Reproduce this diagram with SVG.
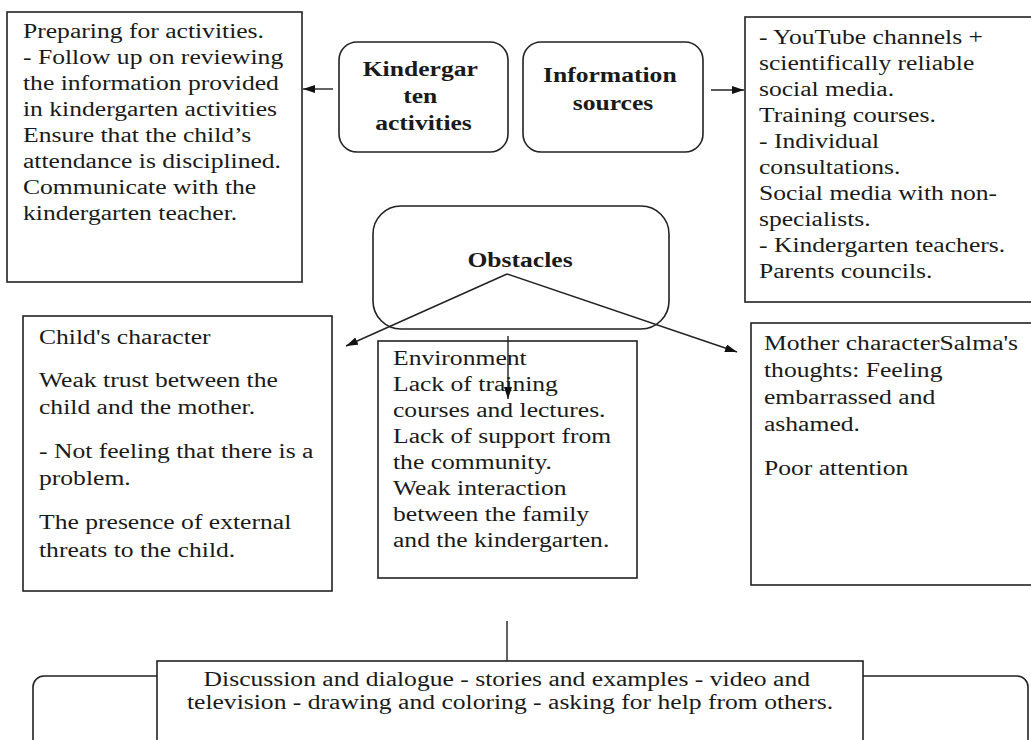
<svg xmlns="http://www.w3.org/2000/svg" width="1031" height="740" viewBox="0 0 1031 740">
<style>
.bg{fill:#ffffff}
.box{fill:#ffffff;stroke:#222;stroke-width:1.6}
.rbox{fill:none;stroke:#222;stroke-width:1.6}
.t{font-family:"Liberation Serif","Times New Roman",serif;font-size:20px;fill:#1a1a1a}
.b{font-weight:bold}
.c{text-anchor:middle}
.ln{fill:none;stroke:#222;stroke-width:1.4}
</style>
<defs>
<marker id="ah" viewBox="0 0 10 10" refX="10" refY="5" markerUnits="userSpaceOnUse" markerWidth="12" markerHeight="8" orient="auto" preserveAspectRatio="none">
<path d="M0,0 L10,5 L0,10 z" fill="#111"/>
</marker>
</defs>
<rect class="bg" x="0" y="0" width="1031" height="740"/>

<g id="prep">
<rect class="box" x="7" y="12" width="295" height="270"/>
<text class="t" transform="translate(23,0) scale(1.28,1)">
<tspan x="0" y="38">Preparing for activities.</tspan>
<tspan x="0" y="64">- Follow up on reviewing</tspan>
<tspan x="0" y="90">the information provided</tspan>
<tspan x="0" y="116">in kindergarten activities</tspan>
<tspan x="0" y="142">Ensure that the child’s</tspan>
<tspan x="0" y="168">attendance is disciplined.</tspan>
<tspan x="0" y="194">Communicate with the</tspan>
<tspan x="0" y="220">kindergarten teacher.</tspan>
</text>
</g>

<g id="kg">
<rect class="box" x="339" y="42" width="169" height="110" rx="18"/>
<text class="t b c" transform="translate(423.5,0) scale(1.28,1)">
<tspan x="0" y="76">Kindergar</tspan>
<tspan x="0" y="103">ten</tspan>
<tspan x="0" y="130">activities</tspan>
</text>
</g>

<g id="info">
<rect class="box" x="523" y="42" width="180" height="110" rx="18"/>
<text class="t b c" transform="translate(613,0) scale(1.28,1)">
<tspan x="0" y="82">Information</tspan>
<tspan x="0" y="110">sources</tspan>
</text>
</g>

<g id="sources">
<rect class="box" x="745" y="17" width="300" height="285"/>
<text class="t" transform="translate(759,0) scale(1.28,1)">
<tspan x="0" y="44">- YouTube channels +</tspan>
<tspan x="0" y="70">scientifically reliable</tspan>
<tspan x="0" y="96">social media.</tspan>
<tspan x="0" y="122">Training courses.</tspan>
<tspan x="0" y="148">- Individual</tspan>
<tspan x="0" y="174">consultations.</tspan>
<tspan x="0" y="200">Social media with non-</tspan>
<tspan x="0" y="226">specialists.</tspan>
<tspan x="0" y="252">- Kindergarten teachers.</tspan>
<tspan x="0" y="278">Parents councils.</tspan>
</text>
</g>

<g id="obstacles">
<rect class="box" x="373" y="206" width="296" height="123" rx="28"/>
<text class="t b c" transform="translate(520,0) scale(1.28,1)">
<tspan x="0" y="267">Obstacles</tspan>
</text>
</g>

<g id="child">
<rect class="box" x="23" y="316" width="309" height="275"/>
<text class="t" transform="translate(39,0) scale(1.28,1)">
<tspan x="0" y="344">Child's character</tspan>
<tspan x="0" y="387">Weak trust between the</tspan>
<tspan x="0" y="414">child and the mother.</tspan>
<tspan x="0" y="458">- Not feeling that there is a</tspan>
<tspan x="0" y="485">problem.</tspan>
<tspan x="0" y="529">The presence of external</tspan>
<tspan x="0" y="557">threats to the child.</tspan>
</text>
</g>

<g id="environment">
<rect class="box" x="378" y="341" width="259" height="237"/>
<text class="t" transform="translate(393,0) scale(1.28,1)">
<tspan x="0" y="365">Environment</tspan>
<tspan x="0" y="391">Lack of training</tspan>
<tspan x="0" y="417">courses and lectures.</tspan>
<tspan x="0" y="443">Lack of support from</tspan>
<tspan x="0" y="469">the community.</tspan>
<tspan x="0" y="495">Weak interaction</tspan>
<tspan x="0" y="521">between the family</tspan>
<tspan x="0" y="547">and the kindergarten.</tspan>
</text>
</g>

<g id="mother">
<rect class="box" x="751" y="323" width="300" height="262"/>
<text class="t" transform="translate(764,0) scale(1.28,1)">
<tspan x="0" y="350">Mother characterSalma's</tspan>
<tspan x="0" y="377">thoughts: Feeling</tspan>
<tspan x="0" y="404">embarrassed and</tspan>
<tspan x="0" y="431">ashamed.</tspan>
<tspan x="0" y="475">Poor attention</tspan>
</text>
</g>

<g id="methods">
<rect class="box" x="33" y="676" width="995" height="110" rx="11"/>
<rect class="box" x="157" y="661" width="706" height="110"/>
<text class="t c" transform="translate(510,0) scale(1.28,1)">
<tspan x="0" y="686">Discussion and dialogue - stories and examples - video and</tspan>
<tspan x="0" y="709">television - drawing and coloring - asking for help from others.</tspan>
</text>
</g>

<g id="connectors">
<path class="ln" d="M333,89 L303,89" marker-end="url(#ah)"/>
<path class="ln" d="M711,90 L744,90" marker-end="url(#ah)"/>
<path class="ln" d="M507,274 L346,346" marker-end="url(#ah)"/>
<path class="ln" d="M507,274 L737,352" marker-end="url(#ah)"/>
<path class="ln" d="M508,336 L508,399" marker-end="url(#ah)"/>
<path class="ln" d="M507,621 L507,661"/>
</g>
</svg>
